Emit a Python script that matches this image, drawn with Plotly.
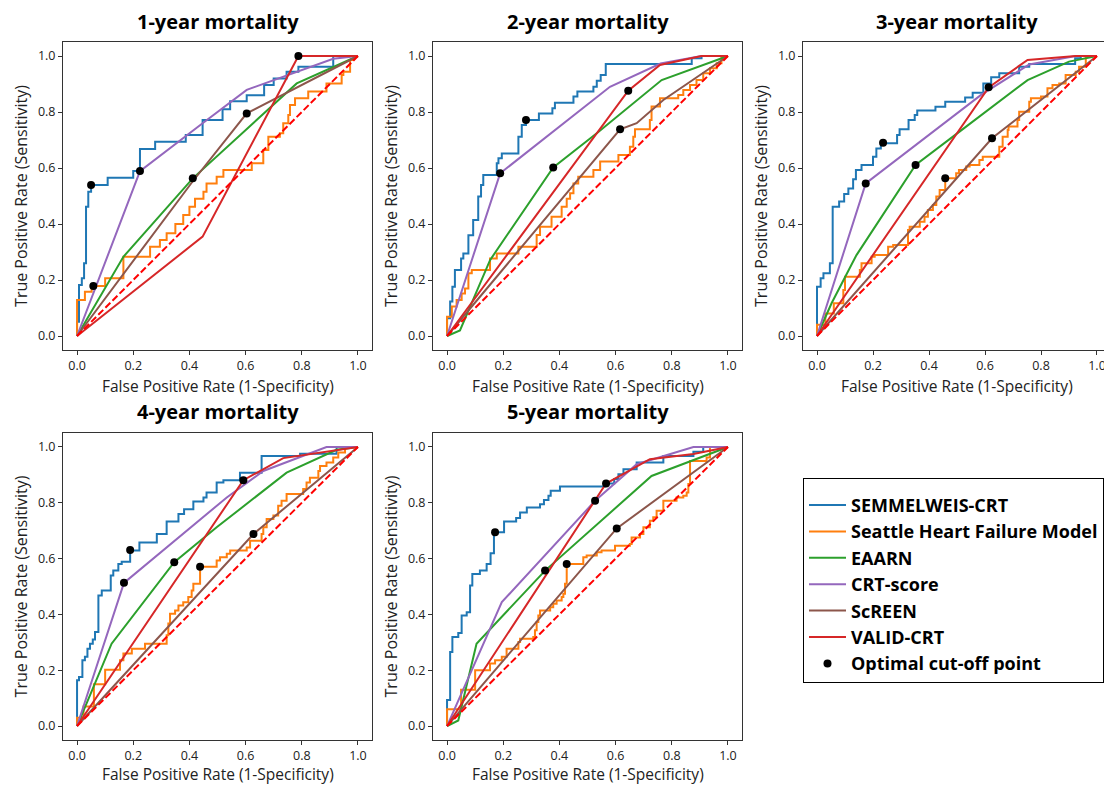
import plotly.graph_objects as go

panel_titles = ["1-year mortality", "2-year mortality", "3-year mortality",
                "4-year mortality", "5-year mortality"]
models = ["SEMMELWEIS-CRT", "Seattle Heart Failure Model", "EAARN",
          "CRT-score", "ScREEN", "VALID-CRT"]
colors = ["#1f77b4", "#ff7f0e", "#2ca02c", "#9467bd", "#8c564b", "#d62728"]
tick_values = [0.0, 0.2, 0.4, 0.6, 0.8, 1.0]
chance_line = [0.0, 1.0]
x_label = "False Positive Rate (1-Specificity)"
y_label = "True Positive Rate (Sensitivity)"

# SEMMELWEIS-CRT (step curve: each point = level reached, then run right to fpr)
semmelweis_fpr = [
    [0, 0.007, 0.017, 0.025, 0.032, 0.04, 0.05, 0.109, 0.2, 0.224, 0.278, 0.387, 0.447, 0.518, 0.545, 0.604, 0.666, 0.7, 0.746, 0.788, 0.912, 1.0],
    [0, 0.011, 0.019, 0.028, 0.05, 0.058, 0.076, 0.093, 0.111, 0.121, 0.129, 0.177, 0.183, 0.195, 0.254, 0.266, 0.281, 0.327, 0.375, 0.384, 0.45, 0.464, 0.521, 0.533, 0.547, 0.565, 0.871, 0.906, 1.0],
    [0, 0.013, 0.023, 0.046, 0.056, 0.079, 0.097, 0.112, 0.129, 0.139, 0.159, 0.2, 0.212, 0.228, 0.286, 0.295, 0.327, 0.349, 0.358, 0.423, 0.458, 0.529, 0.556, 0.594, 0.622, 0.651, 0.722, 0.758, 0.922, 0.942, 1.0],
    [0, 0.007, 0.019, 0.028, 0.037, 0.046, 0.056, 0.064, 0.076, 0.088, 0.12, 0.129, 0.147, 0.159, 0.189, 0.222, 0.284, 0.319, 0.361, 0.381, 0.414, 0.45, 0.461, 0.497, 0.521, 0.58, 0.657, 0.794, 0.924, 1.0],
    [0, 0.011, 0.019, 0.04, 0.052, 0.07, 0.082, 0.09, 0.117, 0.141, 0.155, 0.167, 0.203, 0.246, 0.26, 0.284, 0.331, 0.345, 0.361, 0.369, 0.402, 0.562, 0.595, 0.61, 0.628, 0.675, 0.77, 0.877, 0.912, 1.0],
]
semmelweis_tpr = [
    [0, 0.051, 0.182, 0.206, 0.26, 0.462, 0.515, 0.539, 0.565, 0.589, 0.668, 0.694, 0.718, 0.771, 0.81, 0.838, 0.86, 0.896, 0.92, 0.944, 0.962, 1.0],
    [0, 0.063, 0.123, 0.176, 0.236, 0.277, 0.295, 0.36, 0.414, 0.498, 0.539, 0.575, 0.617, 0.635, 0.652, 0.712, 0.754, 0.771, 0.795, 0.813, 0.833, 0.855, 0.873, 0.89, 0.912, 0.932, 0.971, 0.992, 1.0],
    [0, 0.176, 0.206, 0.224, 0.26, 0.462, 0.48, 0.507, 0.527, 0.56, 0.593, 0.611, 0.64, 0.67, 0.688, 0.718, 0.738, 0.771, 0.789, 0.805, 0.819, 0.837, 0.852, 0.869, 0.902, 0.924, 0.938, 0.962, 0.971, 0.992, 1.0],
    [0, 0.164, 0.176, 0.236, 0.248, 0.277, 0.295, 0.31, 0.337, 0.468, 0.486, 0.539, 0.557, 0.581, 0.589, 0.629, 0.658, 0.688, 0.733, 0.76, 0.777, 0.805, 0.819, 0.837, 0.873, 0.881, 0.908, 0.968, 0.976, 1.0],
    [0, 0.093, 0.265, 0.319, 0.333, 0.396, 0.408, 0.504, 0.545, 0.557, 0.581, 0.619, 0.694, 0.733, 0.745, 0.765, 0.783, 0.795, 0.81, 0.825, 0.843, 0.858, 0.869, 0.885, 0.902, 0.92, 0.944, 0.968, 0.983, 1.0],
]

# Seattle Heart Failure Model (step curve)
seattle_fpr = [
    [0, 0.028, 0.052, 0.1, 0.165, 0.26, 0.295, 0.319, 0.35, 0.378, 0.4, 0.42, 0.45, 0.461, 0.497, 0.521, 0.622, 0.663, 0.681, 0.722, 0.734, 0.752, 0.758, 0.776, 0.823, 0.888, 0.942, 0.948, 0.972, 0.983, 1.0],
    [0, 0.017, 0.034, 0.052, 0.064, 0.076, 0.088, 0.153, 0.177, 0.254, 0.319, 0.331, 0.372, 0.408, 0.426, 0.438, 0.45, 0.467, 0.521, 0.545, 0.61, 0.651, 0.663, 0.669, 0.722, 0.728, 0.758, 0.823, 0.841, 0.865, 0.888, 0.912, 0.936, 0.96, 0.977, 1.0],
    [0, 0.03, 0.06, 0.094, 0.1, 0.153, 0.159, 0.195, 0.206, 0.254, 0.272, 0.325, 0.331, 0.367, 0.384, 0.396, 0.414, 0.426, 0.438, 0.458, 0.497, 0.507, 0.533, 0.545, 0.58, 0.592, 0.651, 0.663, 0.681, 0.684, 0.716, 0.722, 0.758, 0.764, 0.8, 0.823, 0.841, 0.865, 0.888, 0.924, 0.936, 0.96, 1.0],
    [0, 0.023, 0.06, 0.1, 0.153, 0.165, 0.195, 0.242, 0.319, 0.325, 0.331, 0.349, 0.361, 0.378, 0.396, 0.408, 0.414, 0.438, 0.497, 0.509, 0.533, 0.545, 0.604, 0.616, 0.657, 0.663, 0.675, 0.699, 0.716, 0.728, 0.746, 0.805, 0.817, 0.829, 0.859, 0.865, 0.888, 0.912, 0.93, 0.954, 1.0],
    [0, 0.05, 0.1, 0.153, 0.171, 0.195, 0.212, 0.254, 0.26, 0.307, 0.313, 0.319, 0.325, 0.331, 0.367, 0.378, 0.39, 0.408, 0.414, 0.42, 0.426, 0.485, 0.497, 0.533, 0.55, 0.598, 0.651, 0.657, 0.687, 0.699, 0.722, 0.734, 0.746, 0.77, 0.817, 0.841, 0.853, 0.859, 0.865, 0.924, 0.936, 1.0],
]
seattle_tpr = [
    [0, 0.129, 0.158, 0.179, 0.206, 0.283, 0.319, 0.343, 0.367, 0.4, 0.432, 0.462, 0.49, 0.515, 0.545, 0.569, 0.593, 0.617, 0.664, 0.712, 0.724, 0.76, 0.789, 0.825, 0.849, 0.873, 0.902, 0.932, 0.944, 0.986, 1.0],
    [0, 0.069, 0.105, 0.129, 0.152, 0.17, 0.224, 0.236, 0.277, 0.295, 0.319, 0.361, 0.39, 0.426, 0.462, 0.49, 0.51, 0.545, 0.569, 0.593, 0.623, 0.646, 0.676, 0.712, 0.738, 0.771, 0.82, 0.849, 0.861, 0.879, 0.896, 0.914, 0.938, 0.956, 0.974, 1.0],
    [0, 0.04, 0.08, 0.117, 0.164, 0.212, 0.236, 0.26, 0.283, 0.289, 0.319, 0.325, 0.379, 0.39, 0.408, 0.426, 0.45, 0.468, 0.498, 0.521, 0.563, 0.581, 0.593, 0.605, 0.611, 0.629, 0.64, 0.676, 0.712, 0.736, 0.748, 0.771, 0.801, 0.837, 0.849, 0.855, 0.885, 0.896, 0.902, 0.932, 0.944, 0.962, 1.0],
    [0, 0.03, 0.07, 0.15, 0.202, 0.236, 0.26, 0.277, 0.295, 0.325, 0.367, 0.402, 0.414, 0.432, 0.444, 0.462, 0.486, 0.51, 0.571, 0.593, 0.605, 0.617, 0.629, 0.64, 0.664, 0.688, 0.712, 0.742, 0.754, 0.789, 0.807, 0.831, 0.849, 0.873, 0.89, 0.914, 0.932, 0.944, 0.962, 0.98, 1.0],
    [0, 0.06, 0.13, 0.2, 0.224, 0.236, 0.248, 0.277, 0.301, 0.313, 0.319, 0.343, 0.373, 0.396, 0.414, 0.426, 0.438, 0.45, 0.462, 0.474, 0.51, 0.581, 0.605, 0.611, 0.623, 0.629, 0.646, 0.652, 0.676, 0.688, 0.712, 0.736, 0.748, 0.771, 0.807, 0.819, 0.825, 0.837, 0.867, 0.95, 0.962, 1.0],
]

# EAARN
eaarn_fpr = [
    [0, 0.165, 0.412, 0.782, 1.0],
    [0, 0.046, 0.153, 0.378, 0.533, 0.764, 1.0],
    [0, 0.052, 0.141, 0.352, 0.509, 0.752, 0.9, 1.0],
    [0, 0.123, 0.346, 0.497, 0.746, 0.924, 1.0],
    [0, 0.04, 0.105, 0.349, 0.728, 1.0],
]
eaarn_tpr = [
    [0, 0.283, 0.563, 0.902, 1.0],
    [0, 0.02, 0.271, 0.602, 0.724, 0.914, 1.0],
    [0, 0.117, 0.289, 0.611, 0.73, 0.914, 0.98, 1.0],
    [0, 0.295, 0.587, 0.712, 0.908, 0.99, 1.0],
    [0, 0.02, 0.295, 0.557, 0.896, 1.0],
]

# CRT-score
crt_fpr = [
    [0, 0.224, 0.447, 0.604, 0.912, 1.0],
    [0, 0.189, 0.58, 0.76, 0.906, 1.0],
    [0, 0.174, 0.586, 0.758, 0.924, 1.0],
    [0, 0.167, 0.533, 0.663, 0.888, 1.0],
    [0, 0.195, 0.527, 0.675, 0.877, 1.0],
]
crt_tpr = [
    [0, 0.589, 0.76, 0.879, 0.99, 1.0],
    [0, 0.581, 0.89, 0.973, 1.0, 1.0],
    [0, 0.545, 0.861, 0.97, 1.0, 1.0],
    [0, 0.513, 0.819, 0.914, 1.0, 1.0],
    [0, 0.444, 0.807, 0.938, 1.0, 1.0],
]

# ScREEN
screen_fpr = [
    [0, 0.41, 0.604, 1.0],
    [0, 0.616, 0.675, 0.77, 1.0],
    [0, 0.625, 1.0],
    [0, 0.628, 1.0],
    [0, 0.604, 1.0],
]
screen_tpr = [
    [0, 0.55, 0.795, 1.0],
    [0, 0.738, 0.76, 0.843, 1.0],
    [0, 0.706, 1.0],
    [0, 0.688, 1.0],
    [0, 0.708, 1.0],
]

# VALID-CRT
valid_fpr = [
    [0, 0.447, 0.788, 1.0],
    [0, 0.645, 0.758, 0.906, 1.0],
    [0, 0.613, 0.752, 0.924, 1.0],
    [0, 0.592, 0.734, 1.0],
    [0, 0.566, 0.722, 0.877, 1.0],
]
valid_tpr = [
    [0, 0.355, 1.0, 1.0],
    [0, 0.876, 0.968, 1.0, 1.0],
    [0, 0.888, 0.986, 1.0, 1.0],
    [0, 0.881, 0.96, 1.0],
    [0, 0.869, 0.956, 0.975, 1.0],
]

# Optimal cut-off points
cutoff_fpr = [
    [0.05, 0.058, 0.412, 0.224, 0.604, 0.788],
    [0.281, 0.378, 0.189, 0.616, 0.645],
    [0.236, 0.458, 0.352, 0.174, 0.625, 0.613],
    [0.189, 0.438, 0.346, 0.167, 0.628, 0.592],
    [0.171, 0.426, 0.349, 0.527, 0.604, 0.566],
]
cutoff_tpr = [
    [0.539, 0.179, 0.563, 0.589, 0.795, 1.0],
    [0.771, 0.602, 0.581, 0.738, 0.876],
    [0.69, 0.563, 0.611, 0.545, 0.706, 0.888],
    [0.631, 0.571, 0.587, 0.513, 0.688, 0.881],
    [0.694, 0.581, 0.557, 0.807, 0.708, 0.869],
]

model_x = [semmelweis_fpr, seattle_fpr, eaarn_fpr, crt_fpr, screen_fpr, valid_fpr]
model_y = [semmelweis_tpr, seattle_tpr, eaarn_tpr, crt_tpr, screen_tpr, valid_tpr]
line_shapes = ["vh", "vh", "linear", "linear", "linear", "linear"]

FONT = "Open Sans"
W, H = 1104, 777  # page body adds an 8px margin
col_dom = [(0.04982, 0.32971), (0.38496, 0.66486), (0.72011, 0.99909)]
row_dom = [(0.55985, 0.95624), (0.05792, 0.45302)]
title_y = [0.982, 0.4813]
xlabel_y = [0.5135, 0.0142]
positions = [(0, 0), (0, 1), (0, 2), (1, 0), (1, 1)]

fig = go.Figure()
layout_axes = {}
annotations = []
for p, (r, c) in enumerate(positions):
    sfx = "" if p == 0 else str(p + 1)
    xa, ya = "x" + sfx, "y" + sfx
    for m in range(len(models)):
        fig.add_trace(go.Scatter(
            x=model_x[m][p], y=model_y[m][p], mode="lines",
            line=dict(color=colors[m], width=2, shape=line_shapes[m]),
            name=models[m], legendgroup=models[m], showlegend=(p == 0),
            xaxis=xa, yaxis=ya, hoverinfo="skip"))
    fig.add_trace(go.Scatter(
        x=chance_line, y=chance_line, mode="lines",
        line=dict(color="#ff0000", width=2, dash="7px,3px"),
        showlegend=False, xaxis=xa, yaxis=ya, hoverinfo="skip"))
    fig.add_trace(go.Scatter(
        x=cutoff_fpr[p], y=cutoff_tpr[p], mode="markers",
        marker=dict(color="black", size=8),
        name="Optimal cut-off point", legendgroup="cutoff", showlegend=(p == 0),
        xaxis=xa, yaxis=ya, hoverinfo="skip"))

    common = dict(range=[-0.05, 1.05], tickvals=tick_values, tickformat=".1f",
                  showline=True, linecolor="#333", linewidth=1, mirror=True,
                  ticks="outside", ticklen=4, tickcolor="#333",
                  showgrid=False, zeroline=False,
                  tickfont=dict(family=FONT, size=12.5, color="#222"))
    layout_axes["xaxis" + sfx] = dict(common, domain=list(col_dom[c]), anchor=ya)
    layout_axes["yaxis" + sfx] = dict(
        common, domain=list(row_dom[r]), anchor=xa,
        title=dict(text=y_label,
                   font=dict(family=FONT, size=16, color="#222"), standoff=6))
    cx = (col_dom[c][0] + col_dom[c][1]) / 2
    annotations.append(dict(
        text="<b>" + panel_titles[p] + "</b>", xref="paper", yref="paper",
        x=cx, y=title_y[r], xanchor="center", yanchor="middle",
        showarrow=False, font=dict(family=FONT, size=20, color="black")))
    annotations.append(dict(
        text=x_label, xref="paper", yref="paper",
        x=cx, y=xlabel_y[r], xanchor="center", yanchor="middle",
        showarrow=False, font=dict(family=FONT, size=15.5, color="#222")))

fig.update_layout(
    width=W, height=H,
    margin=dict(l=0, r=0, t=0, b=0),
    paper_bgcolor="white", plot_bgcolor="white",
    annotations=annotations,
    legend=dict(x=0.72011, y=0.3951, xanchor="left", yanchor="top",
                bordercolor="black", borderwidth=1, bgcolor="white",
                font=dict(family=FONT, size=18, color="black", weight="bold"),
                title=dict(text=" ", font=dict(size=6)),
                tracegroupgap=0, itemwidth=37),
    **layout_axes)

fig.write_html("out.html")
